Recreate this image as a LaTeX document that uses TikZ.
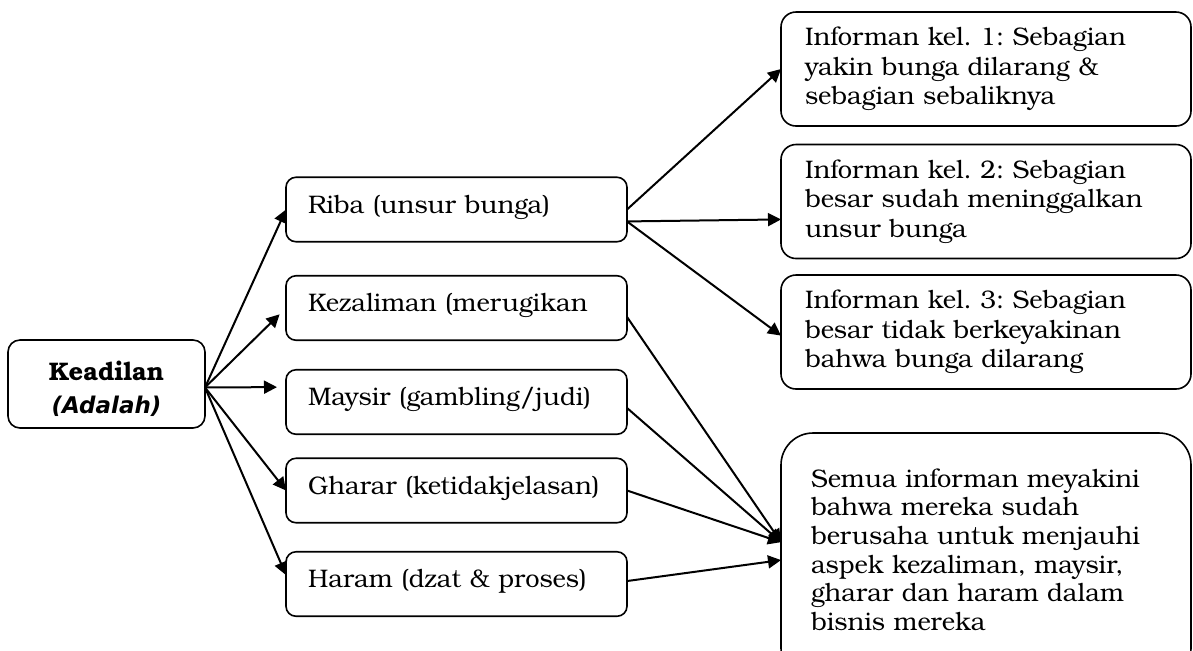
\documentclass[tikz,border=0pt]{standalone}
\usepackage{fontspec}
\setmainfont{texgyrebonum}[Extension=.otf,UprightFont=*-regular,BoldFont=*-bold,
  ItalicFont=*-italic,BoldItalicFont=*-bolditalic]
\newfontfamily\adalahfont{DejaVu Sans}
\usetikzlibrary{arrows.meta}
\frenchspacing

\begin{document}
\begin{tikzpicture}[x=0.5pt,y=-0.5pt,font=\fontsize{12.7}{14.75}\selectfont]
\useasboundingbox (0,0) rectangle (1193,650);
\clip (0,0) rectangle (1193,650);

\begin{scope}[every node/.style={draw,line width=0.8pt,rounded corners=6pt,outer sep=0pt,
              minimum width=98.5pt,minimum height=44pt,align=center}]
    \node (1) at (106.5,384) {\rule{0pt}{15pt}\bfseries Keadilan\\[1.75pt]
          {\adalahfont\fontsize{11.5}{14}\selectfont\bfseries\itshape (Adalah)}};
\end{scope}

\begin{scope}[every node/.style={draw,line width=0.8pt,rounded corners=5pt,outer sep=0pt,
              minimum width=170.5pt,minimum height=32.25pt,inner xsep=11pt,
              text width=148.5pt,align=left,text height=9pt,text depth=5.5pt}]
    \node (2) at (456.5,209.5) {Riba (unsur bunga)};
    \node (3) at (456.5,308  ) {Kezaliman (merugikan};
    \node (4) at (456.5,402  ) {Maysir (gambling/judi)};
    \node (5) at (456.5,490.5) {Gharar (ketidakjelasan)};
    \node (6) at (456.5,584  ) {Haram (dzat \& proses)};
\end{scope}

\begin{scope}[every node/.style={draw,line width=0.8pt,rounded corners=7.5pt,outer sep=0pt,
              minimum width=205pt,minimum height=57pt,inner xsep=12pt,
              text width=181pt,align=left}]
    \node (7) at (986,69   ) {Informan kel. 1: Sebagian\\yakin bunga dilarang \&\\sebagian sebaliknya};
    \node (8) at (986,201.5) {Informan kel. 2: Sebagian\\besar sudah meninggalkan\\unsur bunga};
    \node (9) at (986,332  ) {Informan kel. 3: Sebagian\\besar tidak berkeyakinan\\bahwa bunga dilarang};
    \node[rounded corners=16pt,minimum height=123.5pt,inner xsep=15pt,text width=175pt,
          font=\fontsize{12.7}{14.3}\selectfont]
          (10) at (986,556.5) {Semua informan meyakini\\bahwa mereka sudah\\berusaha untuk menjauhi\\
          aspek kezaliman, maysir,\\gharar dan haram dalam\\bisnis mereka\rule[-7pt]{0pt}{7pt}};
\end{scope}

\begin{scope}[>={Triangle[length=6.5pt,width=6.5pt]},
              every edge/.style={draw,line width=1pt}]
    \path [->] (1.-2) edge (2.west);
    \path [->] (1.-2) edge[shorten >=4.5pt] (3.west);
    \path [->] (1.-2) edge[shorten >=4.5pt] (4.175.3);
    \path [->] (1.-2) edge (5.west);
    \path [->] (1.-2) edge (6.177.6);

    \path [->] (2.east)  edge (7.west);
    \path [->] (2.-4.2)  edge (8.185.7);
    \path [->] (2.-4.2)  edge (9.181.7);

    \path [->] (3.-3)   edge (10.176.2);
    \path [->] (4.-2.7) edge (10.176.2);
    \path [->] (5.east) edge (10.176.2);
    \path [->] (6.1.7)  edge (10.181.4);
\end{scope}
\end{tikzpicture}
\end{document}
